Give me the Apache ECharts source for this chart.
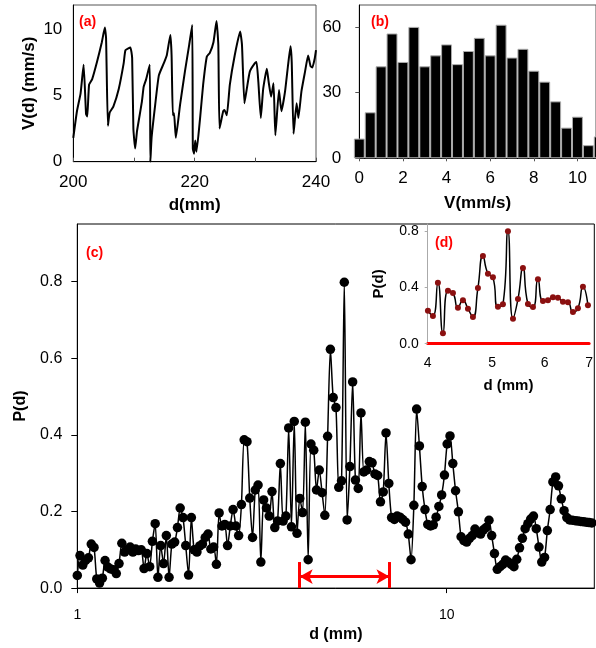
<!DOCTYPE html>
<html>
<head>
<meta charset="utf-8">
<script src="https://cdn.jsdelivr.net/npm/echarts@6/dist/echarts.min.js"></script>
<style>
html,body{margin:0;padding:0;background:#fff;}
#chart{width:596px;height:648px;}
</style>
</head>
<body>
<div id="chart"></div>
<script>
// ---- Panel (a): V(d) vs d ----
const aD = [200.0, 200.6, 201.2, 201.7, 202.1, 202.3, 202.6, 203.1, 203.9, 204.7, 205.2, 205.4, 205.7, 206.0, 206.6, 207.5, 208.3, 208.6, 209.4, 209.7,
  209.9, 210.2, 210.5, 211.3, 211.6, 212.0, 212.6, 212.7, 212.9, 213.5, 214.1, 214.9, 215.4, 216.0, 216.2, 216.4, 216.6, 216.9, 217.6, 218.4,
  219.1, 219.6, 219.7, 219.9, 220.1, 220.3, 220.9, 221.4, 222.0, 222.5, 223.1, 223.6, 223.9, 224.1, 224.7, 224.9, 225.3, 225.8, 226.6, 227.5,
  227.8, 228.2, 228.6, 229.1, 229.9, 230.2, 230.5, 230.9, 231.3, 231.9, 232.2, 232.6, 233.0, 233.3, 233.9, 234.3, 234.9, 235.4, 235.8, 236.0,
  236.3, 236.8, 237.1, 237.6, 238.2, 238.7, 239.1, 239.4, 239.8, 240.0];
const aV = [1.8, 3.8, 5.15, 7.3, 3.6, 3.4, 5.8, 6.2, 7.5, 9.0, 10.1, 9.3, 2.7, 3.7, 4.15, 5.5, 7.4, 8.4, 8.6, 7.8,
  2.5, 1.0, 2.3, 4.5, 5.65, 6.2, 7.3, 0.0, 1.8, 4.3, 6.5, 7.4, 8.0, 9.55, 8.0, 3.5, 3.65, 1.8, 4.3, 6.8,
  8.8, 10.3, 1.0, 0.6, 1.6, 0.75, 3.3, 5.8, 7.9, 8.2, 9.0, 10.6, 8.8, 2.5, 3.8, 3.9, 3.5, 5.8, 8.0, 9.8,
  8.8, 4.4, 5.5, 6.8, 7.4, 7.5, 6.0, 3.3, 5.5, 7.0, 6.0, 4.9, 5.9, 2.0, 5.4, 3.8, 5.3, 7.3, 8.7, 7.5,
  2.1, 4.4, 3.3, 5.3, 6.8, 8.0, 7.2, 7.1, 7.8, 8.4];
const aXTicks = [200, 220, 240];

// ---- Panel (b): histogram of V ----
const bCenters = [0, 0.5, 1, 1.5, 2, 2.5, 3, 3.5, 4, 4.5, 5, 5.5, 6, 6.5, 7, 7.5, 8, 8.5, 9, 9.5, 10, 10.5, 11];
const bCounts = [9, 21, 42, 57, 44, 60, 42, 47, 52, 43, 49, 55, 47, 61, 46, 50, 40, 35, 26, 14, 19, 6, 10];

// ---- Panel (c): P(d) vs d (log) ----
const cD = [1.000, 1.017, 1.035, 1.053, 1.072, 1.091, 1.110, 1.129, 1.149, 1.169,
  1.189, 1.210, 1.231, 1.253, 1.275, 1.297, 1.320, 1.343, 1.366, 1.390,
  1.414, 1.439, 1.464, 1.490, 1.516, 1.543, 1.570, 1.597, 1.625, 1.653,
  1.682, 1.712, 1.742, 1.772, 1.803, 1.835, 1.867, 1.899, 1.933, 1.966,
  2.001, 2.036, 2.071, 2.108, 2.145, 2.182, 2.220, 2.259, 2.299, 2.339,
  2.380, 2.421, 2.464, 2.507, 2.551, 2.595, 2.641, 2.687, 2.734, 2.782,
  2.830, 2.880, 2.930, 2.981, 3.033, 3.086, 3.140, 3.195, 3.251, 3.308,
  3.366, 3.425, 3.485, 3.546, 3.608, 3.671, 3.735, 3.800, 3.867, 3.934,
  4.003, 4.073, 4.144, 4.217, 4.291, 4.366, 4.442, 4.520, 4.599, 4.679,
  4.761, 4.844, 4.929, 5.015, 5.103, 5.192, 5.283, 5.376, 5.470, 5.565,
  5.662, 5.762, 5.862, 5.965, 6.069, 6.175, 6.283, 6.393, 6.505, 6.619,
  6.734, 6.852, 6.972, 7.094, 7.218, 7.344, 7.473, 7.604, 7.737, 7.872,
  8.009, 8.150, 8.292, 8.437, 8.585, 8.735, 8.888, 9.043, 9.201, 9.362,
  9.526, 9.693, 9.862, 10.03, 10.21, 10.39, 10.57, 10.76, 10.94, 11.13,
  11.33, 11.53, 11.73, 11.93, 12.14, 12.36, 12.57, 12.79, 13.02, 13.24,
  13.47, 13.71, 13.95, 14.19, 14.44, 14.69, 14.95, 15.21, 15.48, 15.75,
  16.03, 16.31, 16.59, 16.88, 17.18, 17.48, 17.78, 18.09, 18.41, 18.73,
  19.06, 19.39, 19.73, 20.08, 20.43, 20.79, 21.15, 21.52, 21.89, 22.28,
  22.67, 23.06, 23.47, 23.88, 24.30, 24.72];
const cP = [0.033, 0.085, 0.060, 0.072, 0.079, 0.115, 0.106, 0.024, 0.013, 0.026,
  0.072, 0.055, 0.050, 0.048, 0.038, 0.064, 0.117, 0.094, 0.100, 0.107,
  0.094, 0.102, 0.098, 0.100, 0.051, 0.090, 0.056, 0.122, 0.168, 0.028,
  0.111, 0.064, 0.137, 0.028, 0.115, 0.120, 0.158, 0.209, 0.184, 0.111,
  0.034, 0.184, 0.100, 0.094, 0.110, 0.115, 0.132, 0.141, 0.102, 0.107,
  0.062, 0.196, 0.162, 0.166, 0.111, 0.162, 0.205, 0.162, 0.137, 0.218,
  0.387, 0.382, 0.235, 0.132, 0.256, 0.269, 0.068, 0.230, 0.209, 0.188,
  0.252, 0.158, 0.175, 0.325, 0.175, 0.188, 0.418, 0.160, 0.435, 0.143,
  0.234, 0.197, 0.433, 0.074, 0.376, 0.360, 0.256, 0.308, 0.249, 0.190,
  0.396, 0.623, 0.497, 0.471, 0.263, 0.280, 0.798, 0.178, 0.317, 0.538,
  0.282, 0.260, 0.457, 0.303, 0.308, 0.330, 0.327, 0.298, 0.294, 0.225,
  0.251, 0.405, 0.273, 0.184, 0.179, 0.188, 0.185, 0.179, 0.172, 0.141,
  0.074, 0.216, 0.467, 0.371, 0.265, 0.205, 0.166, 0.162, 0.165, 0.185,
  0.213, 0.243, 0.295, 0.376, 0.397, 0.325, 0.254, 0.199, 0.134, 0.124,
  0.120, 0.130, 0.137, 0.154, 0.145, 0.141, 0.152, 0.158, 0.177, 0.137,
  0.090, 0.049, 0.056, 0.062, 0.073, 0.068, 0.062, 0.056, 0.075, 0.105,
  0.130, 0.155, 0.168, 0.180, 0.188, 0.155, 0.107, 0.068, 0.080, 0.150,
  0.205, 0.277, 0.290, 0.267, 0.233, 0.202, 0.184, 0.178, 0.177, 0.176,
  0.175, 0.174, 0.173, 0.172, 0.171, 0.170];
const cXTicks = [1, 10];

// ---- Inset (d) and red range arrow ----
const insetRange = [4, 7];
const insetXTicks = [4, 5, 6, 7];
const arrowY = 0.03;
const arrowBarTop = 0.068;

const FONT = '"Liberation Sans", Arial, sans-serif';
const insetData = cD.map((d, i) => [d, cP[i]]).filter(p => p[0] >= insetRange[0] && p[0] <= insetRange[1]);

const chart = echarts.init(document.getElementById('chart'), null, {renderer: 'canvas'});
const axisName = (size) => ({fontWeight: 'bold', fontSize: size, color: '#000', fontFamily: FONT});
const lbl = (size, margin, extra) => Object.assign({fontSize: size, color: '#000', margin: margin, fontFamily: FONT}, extra || {});

const option = {
  animation: false,
  backgroundColor: '#fff',
  textStyle: {fontFamily: FONT},
  grid: [
    {left: 73.3, top: 5, width: 242.7, height: 156.7, show: true, borderColor: '#555', borderWidth: 1, backgroundColor: 'transparent'},
    {left: 359.3, top: 5, width: 237, height: 153.3, show: true, borderColor: '#555', borderWidth: 1, backgroundColor: 'transparent'},
    {left: 77.3, top: 224, width: 517, height: 371, show: true, borderColor: '#000', borderWidth: 1, backgroundColor: 'transparent'},
    {left: 427.7, top: 224, width: 166.3, height: 119.7, show: false}
  ],
  xAxis: [
    {type: 'value', gridIndex: 0, min: 200, max: 240, interval: 10,
      axisLine: {show: true, lineStyle: {color: '#000'}},
      axisTick: {show: true, inside: true, length: 4, lineStyle: {color: '#555'}},
      splitLine: {show: false},
      axisLabel: lbl(17, 12, {formatter: v => aXTicks.indexOf(v) >= 0 ? String(v) : ''}),
      name: 'd(mm)', nameLocation: 'middle', nameGap: 35, nameTextStyle: axisName(17)},
    {type: 'value', gridIndex: 1, min: 0, max: 10.85, interval: 2,
      axisLine: {show: true, lineStyle: {color: '#000'}},
      axisTick: {show: true, length: 3, lineStyle: {color: '#555'}},
      splitLine: {show: false},
      axisLabel: lbl(17, 12, {showMaxLabel: false}),
      name: 'V(mm/s)', nameLocation: 'middle', nameGap: 37, nameTextStyle: axisName(17)},
    {type: 'log', logBase: 10, gridIndex: 2, min: 1, max: 25.1,
      axisLine: {show: true, lineStyle: {color: '#000'}},
      axisTick: {show: true, length: 5, customValues: cXTicks, lineStyle: {color: '#000'}},
      minorTick: {show: false},
      splitLine: {show: false},
      axisLabel: lbl(14, 20, {customValues: cXTicks}),
      name: 'd (mm)', nameLocation: 'middle', nameGap: 36, nameTextStyle: axisName(16)},
    {type: 'log', logBase: 10, gridIndex: 3, min: insetRange[0], max: insetRange[1],
      axisLine: {show: true, onZero: false, lineStyle: {color: '#ff0000', width: 3}},
      axisTick: {show: false, customValues: insetXTicks},
      minorTick: {show: false},
      splitLine: {show: false},
      axisLabel: lbl(14, 12, {customValues: insetXTicks}),
      name: 'd (mm)', nameLocation: 'middle', nameGap: 35, nameTextStyle: axisName(15)}
  ],
  yAxis: [
    {type: 'value', gridIndex: 0, min: 0, max: 11.8, interval: 5,
      axisLine: {show: true, lineStyle: {color: '#000'}},
      axisTick: {show: false},
      splitLine: {show: false},
      axisLabel: lbl(17, 11, {showMaxLabel: false}),
      name: 'V(d) (mm/s)', nameLocation: 'middle', nameRotate: 90, nameGap: 35, nameTextStyle: axisName(17)},
    {type: 'value', gridIndex: 1, min: 0, max: 70, interval: 30,
      axisLine: {show: true, lineStyle: {color: '#000'}},
      axisTick: {show: true, length: 4, lineStyle: {color: '#555'}},
      splitLine: {show: false},
      axisLabel: lbl(17, 18, {showMaxLabel: false})},
    {type: 'value', gridIndex: 2, min: 0, max: 0.95, interval: 0.2,
      axisLine: {show: true, lineStyle: {color: '#000'}},
      axisTick: {show: true, length: 6, lineStyle: {color: '#000'}},
      splitLine: {show: false},
      axisLabel: lbl(16, 15, {showMaxLabel: false, formatter: v => v.toFixed(1)}),
      name: 'P(d)', nameLocation: 'middle', nameRotate: 90, nameGap: 49, nameTextStyle: axisName(16)},
    {type: 'value', gridIndex: 3, min: 0, max: 0.85, interval: 0.4,
      axisLine: {show: true, lineStyle: {color: '#aaa'}},
      axisTick: {show: true, length: 3, lineStyle: {color: '#aaa'}},
      splitLine: {show: false},
      axisLabel: lbl(14, 9, {showMaxLabel: false, formatter: v => v.toFixed(1)}),
      name: 'P(d)', nameLocation: 'middle', nameRotate: 90, nameGap: 41, nameTextStyle: axisName(15)}
  ],
  series: [
    {type: 'line', xAxisIndex: 0, yAxisIndex: 0, data: aD.map((d, i) => [d, aV[i]]),
      showSymbol: false, smooth: 0.15, lineStyle: {color: '#000', width: 2}, clip: true},
    {type: 'bar', xAxisIndex: 1, yAxisIndex: 1, data: bCenters.map((c, i) => [c, bCounts[i]]),
      barWidth: '100%', clip: true,
      itemStyle: {color: '#000', borderColor: '#aaa', borderWidth: 1}},
    {type: 'line', xAxisIndex: 2, yAxisIndex: 2, data: cD.map((d, i) => [d, cP[i]]),
      symbol: 'circle', symbolSize: 9.5, smooth: 0.25, clip: true,
      itemStyle: {color: '#000'}, lineStyle: {color: '#000', width: 1.5}},
    {type: 'line', xAxisIndex: 2, yAxisIndex: 2, data: [], silent: true,
      markLine: {silent: true, animation: false, symbol: ['arrow', 'arrow'], symbolSize: [11, 13],
        label: {show: false},
        lineStyle: {color: '#ff0000', width: 3, type: 'solid'},
        emphasis: {disabled: true},
        data: [
          [{coord: [insetRange[0], arrowY]}, {coord: [insetRange[1], arrowY]}],
          [{coord: [insetRange[0], 0], symbol: 'none'}, {coord: [insetRange[0], arrowBarTop], symbol: 'none'}],
          [{coord: [insetRange[1], 0], symbol: 'none'}, {coord: [insetRange[1], arrowBarTop], symbol: 'none'}]
        ]}},
    {type: 'line', xAxisIndex: 3, yAxisIndex: 3, data: insetData, z: 5,
      symbol: 'circle', symbolSize: 6, smooth: 0.55, clip: true,
      itemStyle: {color: '#8b1010'}, lineStyle: {color: '#000', width: 1.5}}
  ],
  graphic: [
    {type: 'text', left: 79, top: 15, style: {text: '(a)', fill: '#ff0000', font: 'bold 14px ' + FONT}},
    {type: 'text', left: 371, top: 15, style: {text: '(b)', fill: '#ff0000', font: 'bold 14px ' + FONT}},
    {type: 'text', left: 86, top: 246, style: {text: '(c)', fill: '#ff0000', font: 'bold 14px ' + FONT}},
    {type: 'text', left: 435, top: 236, style: {text: '(d)', fill: '#ff0000', font: 'bold 14px ' + FONT}}
  ]
};
chart.setOption(option);
</script>
</body>
</html>
